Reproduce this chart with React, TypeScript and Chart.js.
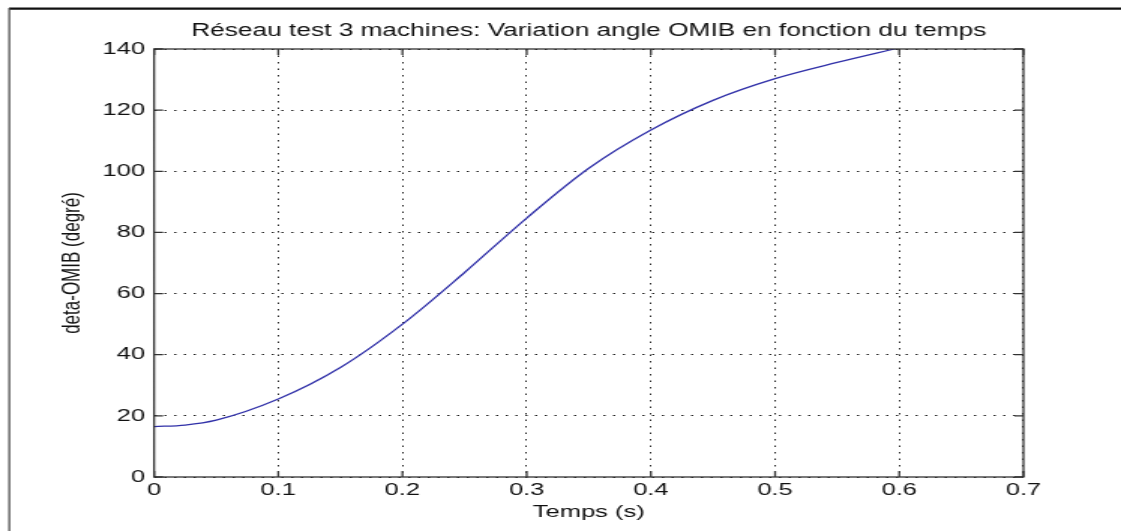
import React, { useEffect, useRef } from "react";
import { Chart, registerables } from "chart.js";

Chart.register(...registerables);

// ---- Text ----
const TITLE = "Réseau test 3 machines: Variation angle OMIB en fonction du temps";
const X_LABEL = "Temps (s)";
const Y_LABEL = "deta-OMIB (degré)";

// ---- Data ----
const timeValues = [
  0, 0.025, 0.05, 0.1, 0.15, 0.2, 0.25, 0.3, 0.35, 0.4, 0.45, 0.5, 0.55, 0.6,
];
const angleValues = [
  16.5, 17.0, 18.6, 25.5, 35.8, 50.0, 66.9, 84.7, 101.0, 113.5, 123.2, 130.3, 135.6, 140.4,
];

// ---- Tick values ----
const xTicks = [0, 0.1, 0.2, 0.3, 0.4, 0.5, 0.6, 0.7];
const yTicks = [0, 20, 40, 60, 80, 100, 120, 140];

// ---- Geometry (reference pixels; the figure is horizontally stretched) ----
const STRETCH = 1.5;
const PAGE_W = 1121;
const PAGE_H = 531;
const CANVAS_W = Math.round(PAGE_W / STRETCH);
const PLOT_LEFT = 154 / STRETCH;
const PLOT_RIGHT = 1023 / STRETCH;
const PLOT_TOP = 49;
const PLOT_BOTTOM = 477;
const FONT_FAMILY = "'Liberation Sans', Arial, Helvetica, sans-serif";
const FONT_SIZE = 17;
const TITLE_SIZE = 17.5;
const LINE_H = FONT_SIZE * 1.2;
const TITLE_LINE_H = TITLE_SIZE * 1.2;

const matlabFrame = {
  id: "matlabFrame",
  afterDraw(chart: any) {
    const { ctx, chartArea: a, scales } = chart;
    ctx.save();
    // axes box
    ctx.strokeStyle = "#333333";
    ctx.lineWidth = 1.3;
    ctx.setLineDash([]);
    ctx.strokeRect(a.left, a.top, a.right - a.left, a.bottom - a.top);
    // inward ticks on all four sides
    ctx.beginPath();
    const tl = 6;
    scales.x.ticks.forEach((t: any) => {
      const px = scales.x.getPixelForValue(t.value);
      ctx.moveTo(px, a.bottom);
      ctx.lineTo(px, a.bottom - tl);
      ctx.moveTo(px, a.top);
      ctx.lineTo(px, a.top + tl);
    });
    scales.y.ticks.forEach((t: any) => {
      const py = scales.y.getPixelForValue(t.value);
      ctx.moveTo(a.left, py);
      ctx.lineTo(a.left + tl, py);
      ctx.moveTo(a.right, py);
      ctx.lineTo(a.right - tl, py);
    });
    ctx.stroke();
    // outer figure frame (top and left)
    ctx.strokeStyle = "#111111";
    ctx.lineWidth = 2.2;
    ctx.beginPath();
    ctx.moveTo(9 / STRETCH, 8.7);
    ctx.lineTo(chart.width, 8.7);
    ctx.stroke();
    ctx.lineWidth = 1.2;
    ctx.strokeStyle = "#444444";
    ctx.beginPath();
    ctx.moveTo(9.2 / STRETCH, 8);
    ctx.lineTo(9.2 / STRETCH, chart.height);
    ctx.stroke();
    ctx.restore();
  },
};

export default function App() {
  const canvasRef = useRef<HTMLCanvasElement | null>(null);

  useEffect(() => {
    if (!canvasRef.current) return;
    const points = timeValues.map((t, i) => ({ x: t, y: angleValues[i] }));
    const font = { family: FONT_FAMILY, size: FONT_SIZE, lineHeight: 1.2 };
    const chart = new Chart(canvasRef.current, {
      type: "line",
      data: {
        datasets: [
          {
            data: points,
            borderColor: "#3030a8",
            borderWidth: 1.3,
            pointRadius: 0,
            fill: false,
            cubicInterpolationMode: "monotone",
          },
        ],
      },
      options: {
        animation: false,
        responsive: false,
        devicePixelRatio: 1,
        layout: { padding: { left: 0, top: 0, right: CANVAS_W - PLOT_RIGHT, bottom: 0 } },
        plugins: {
          legend: { display: false },
          tooltip: { enabled: false },
          title: {
            display: true,
            text: TITLE,
            fullSize: false,
            color: "#111111",
            font: { family: FONT_FAMILY, size: TITLE_SIZE, lineHeight: 1.2, weight: "normal" },
            padding: { top: 21, bottom: PLOT_TOP - 21 - TITLE_LINE_H },
          },
        },
        scales: {
          x: {
            type: "linear",
            min: 0,
            max: 0.7,
            afterBuildTicks: (scale: any) => {
              scale.ticks = xTicks.map((v) => ({ value: v }));
            },
            afterFit: (scale: any) => {
              scale.height = PAGE_H - PLOT_BOTTOM;
            },
            ticks: {
              color: "#111111",
              font,
              padding: 3,
              maxRotation: 0,
              autoSkip: false,
              callback: (v: any) => String(v),
            },
            grid: { color: "#222222", lineWidth: 1, drawTicks: false },
            border: { display: false, dash: [1.5, 5] },
            title: {
              display: true,
              text: X_LABEL,
              color: "#111111",
              font,
              padding: { top: 0, bottom: 19 - LINE_H / 2 },
            },
          },
          y: {
            type: "linear",
            min: 0,
            max: 140,
            afterBuildTicks: (scale: any) => {
              scale.ticks = yTicks.map((v) => ({ value: v }));
            },
            afterFit: (scale: any) => {
              scale.width = PLOT_LEFT;
            },
            ticks: {
              color: "#111111",
              font,
              padding: 6,
              autoSkip: false,
              callback: (v: any) => String(v),
            },
            grid: { color: "#222222", lineWidth: 1, drawTicks: false },
            border: { display: false, dash: [1.5, 5] },
            title: {
              display: true,
              text: Y_LABEL,
              color: "#111111",
              font,
              padding: { top: 72 / STRETCH - LINE_H / 2, bottom: 0 },
            },
          },
        },
      },
      plugins: [matlabFrame],
    } as any);
    return () => chart.destroy();
  }, []);

  return (
    <div
      style={{
        position: "fixed",
        left: 0,
        top: 0,
        width: PAGE_W,
        height: PAGE_H,
        background: "#ffffff",
      }}
    >
      <canvas
        ref={canvasRef}
        width={CANVAS_W}
        height={PAGE_H}
        style={{ width: PAGE_W + "px", height: PAGE_H + "px", display: "block" }}
      />
    </div>
  );
}
